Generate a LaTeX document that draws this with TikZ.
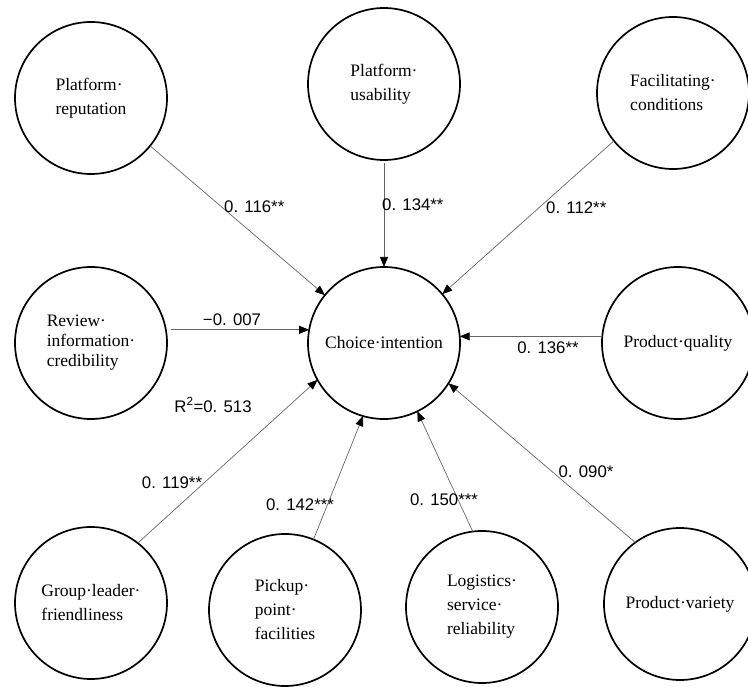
\documentclass[tikz,border=0pt]{standalone}
\usepackage{fontspec}
\setmainfont{Liberation Serif}
\newfontfamily\coeffont{Liberation Sans}
\usepackage{tikz}
\usetikzlibrary{arrows.meta}
\tikzset{>={Triangle[length=10pt,width=8pt,color=black]}}
\tikzset{
  construct/.style={draw, circle, line width=1.7pt, minimum size=152pt,
    inner sep=0pt, outer sep=0pt, align=left,
    font=\fontsize{17.5}{24}\selectfont},
  effect/.style={->, draw=black!60, line width=0.7pt},
  coef/.style={inner sep=0pt, font=\coeffont\fontsize{16.8}{18}\selectfont}
}

\begin{document}
\begin{tikzpicture}[x=1pt,y=-1pt]
\useasboundingbox (0,0) rectangle (748,687);

\node[construct] (ci) at (384,343) {Choice·intention};

\node[construct] (pr) at (91,98) {Platform·\\reputation};
\node[construct] (pu) at (384,84) {Platform·\\usability};
\node[construct] (fc) at (673,93) {Facilitating·\\conditions};
\node[construct, font=\fontsize{17.5}{20}\selectfont] (ric) at (91,343) {Review·\\information·\\credibility};
\node[construct] (pq) at (678,343) {Product·quality};
\node[construct] (gl) at (91,603) {Group·leader·\\friendliness};
\node[construct] (pf) at (285,610) {Pickup·\\point·\\facilities};
\node[construct] (ls) at (482,607) {Logistics·\\service·\\reliability};
\node[construct] (pv) at (680,604) {Product·variety};

\draw[effect] (pr.-39) -- (ci.141);
\draw[effect, shorten <=3pt] (pu.south) -- (ci.north);
\draw[effect] (fc.219) -- (ci.40);
\draw[effect, shorten <=5pt] (ric.10) -- (ci.170);
\draw[effect] (pq.175) -- (ci.5);
\draw[effect] (gl.52) -- (ci.209);
\draw[effect] (pf.68) -- (ci.254);
\draw[effect] (ls.97) -- (ci.296);
\draw[effect] (pv.126) -- (ci.328);

\node[coef, anchor=west] (c116) at (224,207) {0. 116**};
\node[coef, anchor=west] (c134) at (382,205) {0. 134**};
\node[coef, anchor=west] (c112) at (546,208) {0. 112**};
\node[coef] (c007) at (232,320) {−0. 007};
\node[coef] (c136) at (548,348) {0. 136**};
\node[coef] (rsq) at (213,405) {R\textsuperscript{2}=0. 513};
\node[coef] (c119) at (172,483) {0. 119**};
\node[coef] (c142) at (300,505) {0. 142***};
\node[coef] (c150) at (444,500) {0. 150***};
\node[coef] (c090) at (586,472) {0. 090*};

\end{tikzpicture}
\end{document}
